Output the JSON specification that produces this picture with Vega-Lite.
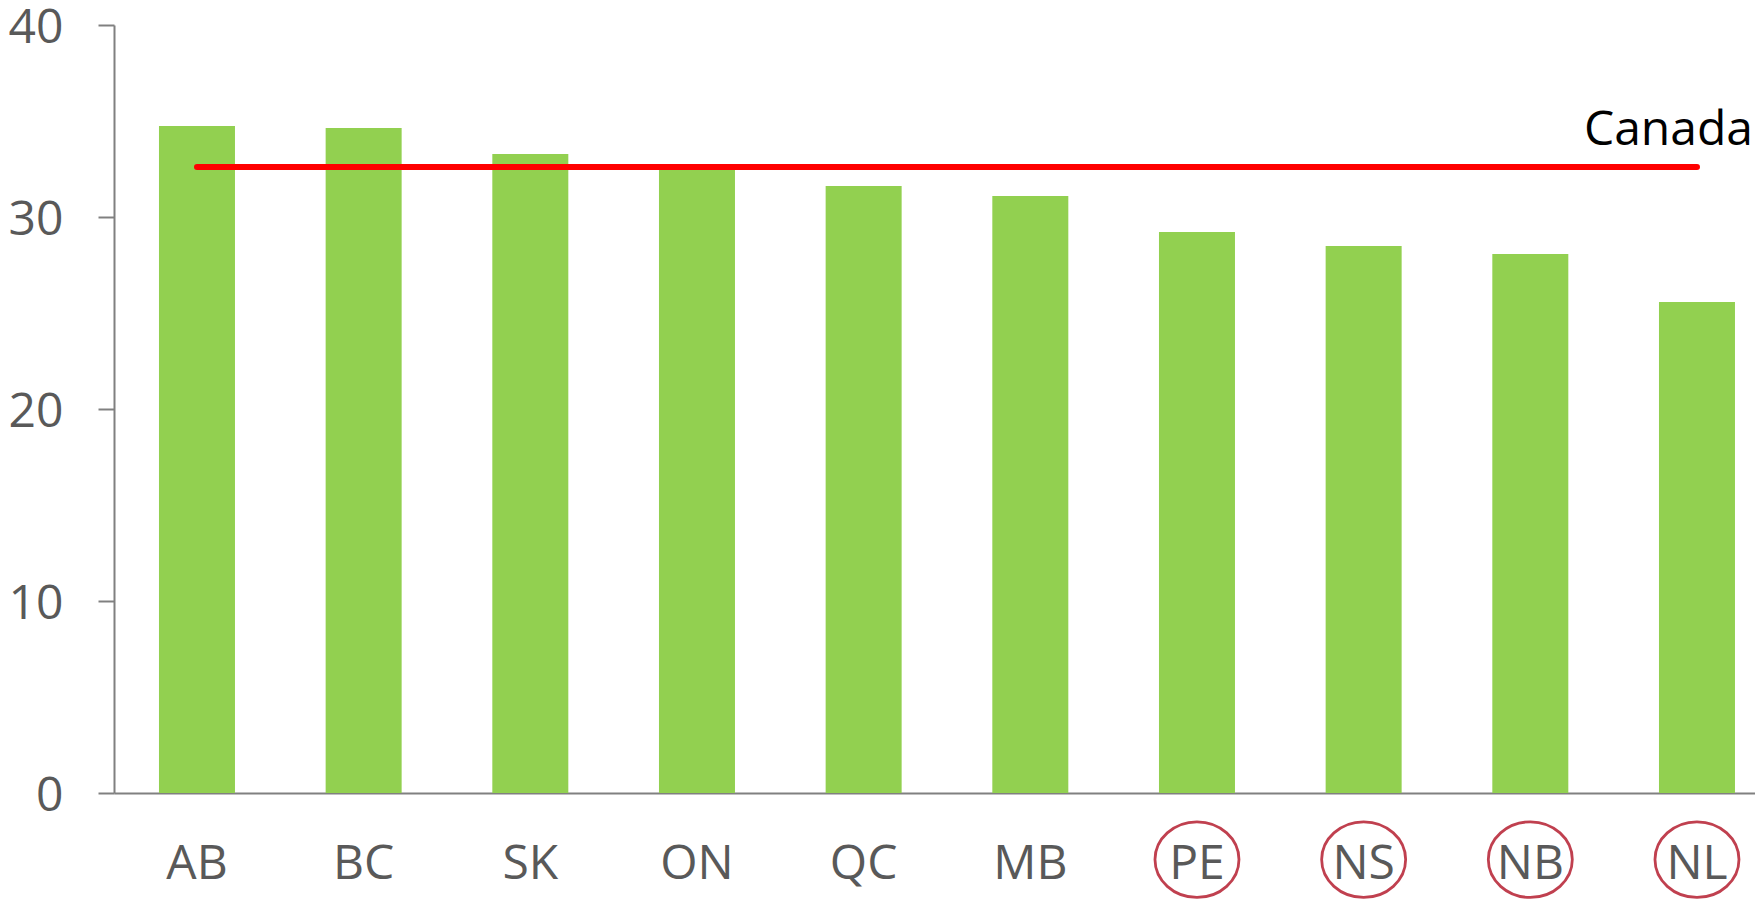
{
  "$schema": "https://vega.github.io/schema/vega-lite/v6.json",
  "width": 1641,
  "height": 768,
  "autosize": {"type": "none"},
  "padding": {"left": 114, "top": 25, "right": 0, "bottom": 107},
  "background": "white",
  "config": {"view": {"stroke": null}, "font": "Open Sans"},
  "datasets": {
    "provinces": [
      {"province": "AB", "value": 34.74, "region": "Other"},
      {"province": "BC", "value": 34.64, "region": "Other"},
      {"province": "SK", "value": 33.28, "region": "Other"},
      {"province": "ON", "value": 32.7, "region": "Other"},
      {"province": "QC", "value": 31.61, "region": "Other"},
      {"province": "MB", "value": 31.09, "region": "Other"},
      {"province": "PE", "value": 29.22, "region": "Atlantic"},
      {"province": "NS", "value": 28.49, "region": "Atlantic"},
      {"province": "NB", "value": 28.07, "region": "Atlantic"},
      {"province": "NL", "value": 25.57, "region": "Atlantic"}
    ],
    "canada": [
      {"label": "Canada", "value": 32.6, "from": "AB", "to": "NL", "labelValue": 33.75}
    ]
  },
  "layer": [
    {
      "data": {"name": "provinces"},
      "mark": {"type": "bar", "color": "#92D050"},
      "encoding": {
        "x": {
          "field": "province", "type": "nominal", "sort": null,
          "scale": {"paddingInner": 0.544, "paddingOuter": 0.195, "align": 0.692},
          "axis": {
            "title": null, "labelAngle": 0, "ticks": false, "tickSize": 0,
            "domainColor": "#808080", "domainWidth": 2,
            "labelFont": "Open Sans", "labelFontSize": 48, "labelColor": "#595959",
            "labelPadding": 47
          }
        },
        "y": {
          "field": "value", "type": "quantitative",
          "scale": {"domain": [0, 40], "nice": false},
          "axis": {
            "title": null, "values": [0, 10, 20, 30, 40], "grid": false,
            "tickSize": 16, "tickColor": "#808080", "tickWidth": 2,
            "domainColor": "#808080", "domainWidth": 2,
            "labelFont": "Open Sans", "labelFontSize": 48, "labelColor": "#595959",
            "labelPadding": 35, "labelOffset": 3
          }
        }
      }
    },
    {
      "data": {"name": "canada"},
      "mark": {"type": "rule", "color": "#FF0000", "strokeWidth": 6, "strokeCap": "round"},
      "encoding": {
        "x": {"field": "from", "type": "nominal", "sort": null},
        "x2": {"field": "to"},
        "y": {"field": "value", "type": "quantitative"}
      }
    },
    {
      "data": {"name": "canada"},
      "mark": {"type": "text", "align": "right", "baseline": "alphabetic", "dx": 56, "fontSize": 48, "font": "Open Sans", "color": "#000000"},
      "encoding": {
        "x": {"field": "to", "type": "nominal", "sort": null},
        "y": {"field": "labelValue", "type": "quantitative"},
        "text": {"field": "label"}
      }
    },
    {
      "data": {"name": "provinces"},
      "transform": [{"filter": "datum.region === 'Atlantic'"}],
      "mark": {
        "type": "point", "filled": false, "fill": null, "stroke": "#C0404F", "strokeWidth": 2.8, "opacity": 1,
        "shape": "M -1 0 A 1 0.9 0 1 1 1 0 A 1 0.9 0 1 1 -1 0 Z", "size": 7056
      },
      "encoding": {
        "x": {"field": "province", "type": "nominal", "sort": null},
        "y": {"datum": -3.47, "type": "quantitative"}
      }
    }
  ]
}
